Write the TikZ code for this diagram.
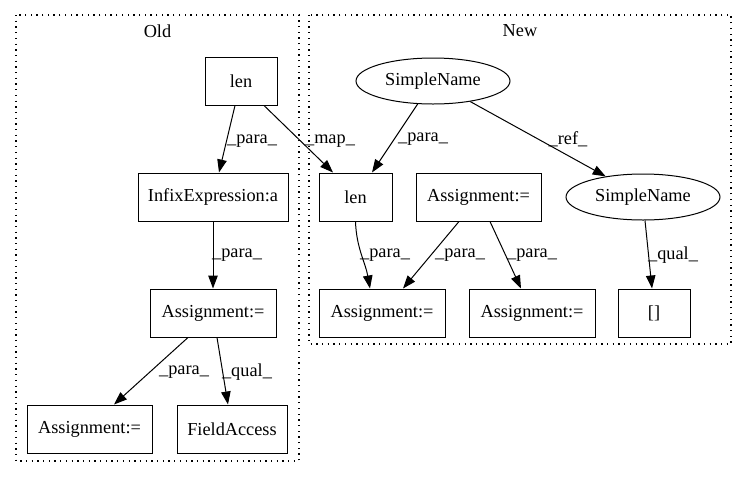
\documentclass[tikz,border=0pt]{standalone}
\usepackage{fontspec}
\setmainfont{Liberation Serif}
\usetikzlibrary{arrows.meta,shapes.geometric}
\begin{document}
\begin{tikzpicture}[x=1pt,y=1pt,
  every node/.style={font=\fontsize{18.3}{22}\selectfont},
  box/.style={draw,line width=1pt,rectangle,inner sep=0pt,minimum height=48pt},
  ell/.style={draw,line width=1pt,ellipse,inner sep=0pt,minimum width=154pt,minimum height=46pt},
  cluster/.style={draw,line width=1.1pt,dash pattern=on 1.3pt off 4.4pt},
  edge/.style={draw,line width=1pt,-{Triangle[length=13pt,width=9.5pt]}},
  lbl/.style={inner sep=0pt}
]
\useasboundingbox (0,0) rectangle (747,-480);
% clusters
\draw[cluster] (16,-15) rectangle (299,-461);
\draw[cluster] (309,-15) rectangle (731,-344);
\node[lbl] (oldt) at (157.5,-31) {Old};
\node[lbl] (newt) at (520,-31) {New};
% Old nodes
\node[box,minimum width=72pt] (oldlen) at (241,-81) {len};
\node[box,minimum width=150pt] (infix) at (213,-197) {InfixExpression:a};
\node[box,minimum width=126pt] (amid) at (213,-313) {Assignment:=};
\node[box,minimum width=125pt] (abl) at (89.5,-429) {Assignment:=};
\node[box,minimum width=110pt] (fa) at (232,-429) {FieldAccess};
% New nodes
\node[ell] (sntop) at (433,-81) {SimpleName};
\node[box,minimum width=73pt] (newlen) at (355.5,-197) {len};
\node[box,minimum width=125pt] (atop) at (478.5,-197) {Assignment:=};
\node[ell] (snright) at (643,-197) {SimpleName};
\node[box,minimum width=126pt] (bot1) at (382,-313) {Assignment:=};
\node[box,minimum width=126pt] (bot2) at (532,-313) {Assignment:=};
\node[box,minimum width=72pt] (br) at (654,-313) {[]};
% edges
\draw[edge] ([xshift=-6pt]oldlen.south) -- ([xshift=6pt]infix.north);
\draw[edge] ([xshift=23pt]oldlen.south) -- ([xshift=-22.5pt]newlen.north);
\draw[edge] (sntop) -- ([xshift=16.5pt]newlen.north);
\draw[edge] (sntop) -- (snright);
\draw[edge] (newlen.south) to[out=-88,in=100] ([xshift=-12pt]bot1.north);
\draw[edge] ([xshift=-19.5pt]atop.south) -- ([xshift=21pt]bot1.north);
\draw[edge] ([xshift=11.5pt]atop.south) -- ([xshift=-11pt]bot2.north);
\draw[edge] ([xshift=2pt]snright.south) -- ([xshift=-2pt]br.north);
\draw[edge] (infix.south) -- (amid.north);
\draw[edge] ([xshift=-25pt]amid.south) -- ([xshift=24.5pt]abl.north);
\draw[edge] ([xshift=4pt]amid.south) -- ([xshift=-4pt]fa.north);
% edge labels
\node[lbl] (l1) at (252,-141) {\_para\_};
\node[lbl] (l2) at (330,-141) {\_map\_};
\node[lbl] (l3) at (423,-139) {\_para\_};
\node[lbl] (l4) at (568,-139) {\_ref\_};
\node[lbl] (l5) at (385,-255) {\_para\_};
\node[lbl] (l6) at (460,-255) {\_para\_};
\node[lbl] (l7) at (532,-255) {\_para\_};
\node[lbl] (l8) at (673,-255) {\_qual\_};
\node[lbl] (l9) at (237,-255) {\_para\_};
\node[lbl] (l10) at (184,-372) {\_para\_};
\node[lbl] (l11) at (247,-372) {\_qual\_};
\end{tikzpicture}
\end{document}
